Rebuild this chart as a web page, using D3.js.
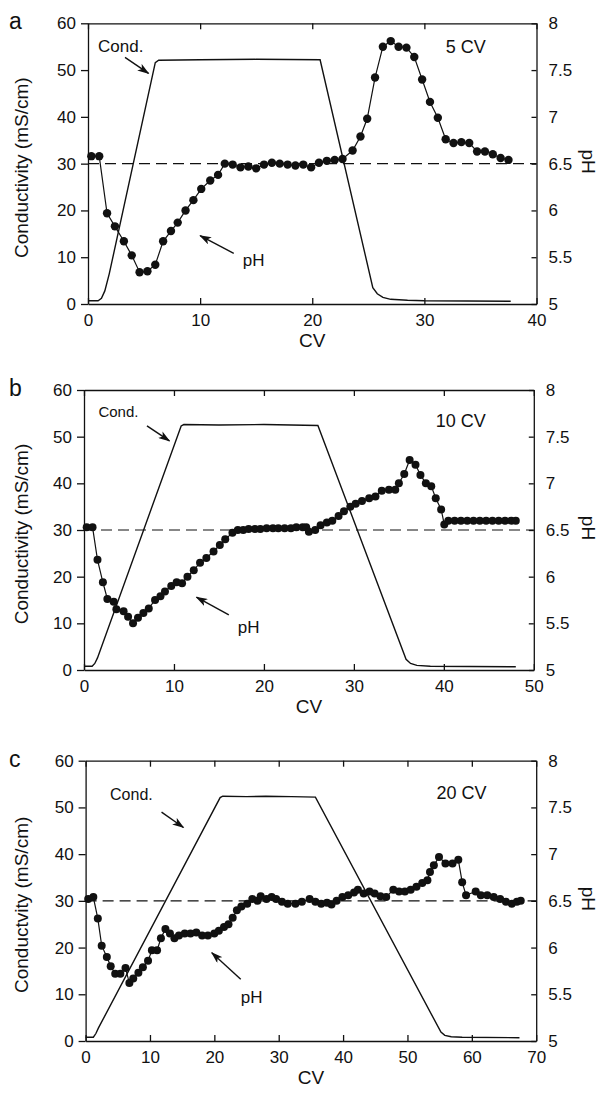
<!DOCTYPE html>
<html>
<head>
<meta charset="utf-8">
<script src="https://cdn.jsdelivr.net/npm/d3@7"></script>
<style>
  body { margin: 0; background: #fff; }
  svg { display: block; }
  text { font-family: "Liberation Sans", Arial, sans-serif; fill: #111; }
</style>
</head>
<body>
<div id="vis"></div>
<script>
// conductivity traces [CV, mS/cm]
let condA = [[0,0.7],[0.9,0.7],[1.2,1.2],[1.5,2.8],[1.9,6.5],[6.0,51.6],[6.3,52.1],[10,52.2],[15,52.3],[20.7,52.2],
  [25.4,3.5],[25.8,2.2],[26.3,1.4],[27.0,1.0],[28.5,0.8],[30,0.7],[37.7,0.6]];
let condB = [[0,0.8],[0.9,0.8],[1.2,1.4],[1.5,2.6],[10.8,52.3],[11.1,52.6],[15,52.5],[20,52.6],[26.0,52.4],
  [35.8,2.3],[36.3,1.4],[37.0,1.0],[38.5,0.8],[48,0.7]];
let condC = [[0,0.8],[1.2,0.8],[1.6,1.6],[2.0,2.8],[20.9,52.1],[21.3,52.4],[25,52.3],[28,52.4],[32,52.3],[35.7,52.2],
  [55.2,1.9],[55.8,1.2],[56.8,0.9],[58.5,0.8],[67.4,0.7]];

// pH traces [CV, pH]
let phA = [[0.3,6.58],[1.0,6.58],[1.7,5.97],[2.4,5.83],[3.2,5.67],[3.9,5.52],[4.6,5.34],[5.3,5.35],[6.0,5.42],
  [6.7,5.67],[7.4,5.78],[8.0,5.87],[8.7,6.0],[9.4,6.11],[10.1,6.23],[10.9,6.32],[11.6,6.38],[12.2,6.5],[12.9,6.49],
  [13.6,6.46],[14.3,6.47],[15.0,6.45],[15.7,6.49],[16.4,6.51],[17.1,6.5],[17.8,6.49],[18.5,6.48],[19.2,6.49],
  [19.9,6.46],[20.6,6.51],[21.3,6.53],[22.0,6.54],[22.7,6.55],[23.6,6.64],[24.3,6.79],[24.9,6.98],[25.6,7.42],
  [26.3,7.75],[27.0,7.81],[27.7,7.75],[28.4,7.74],[29.1,7.64],[29.8,7.40],[30.5,7.16],[31.2,6.99],[31.9,6.76],
  [32.6,6.72],[33.3,6.73],[34.0,6.72],[34.7,6.63],[35.4,6.63],[36.1,6.60],[36.8,6.56],[37.5,6.54]];
let phB = [[0.3,6.53],[0.95,6.53],[1.5,6.18],[2.1,5.94],[2.6,5.76],[3.3,5.73],[3.6,5.65],[4.4,5.63],[4.9,5.57],
  [5.45,5.5],[6.0,5.56],[6.6,5.61],[7.2,5.66],[7.9,5.75],[8.5,5.79],[9.0,5.84],[9.7,5.9],[10.3,5.94],[10.9,5.93],
  [11.5,6.0],[12.2,6.07],[12.9,6.15],[13.6,6.2],[14.4,6.27],[15.1,6.34],[15.7,6.4],[16.5,6.47],[17.1,6.5],
  [17.7,6.5],[18.3,6.51],[19.0,6.51],[19.6,6.51],[20.3,6.52],[21.0,6.52],[21.6,6.52],[22.3,6.52],[23.0,6.52],
  [23.6,6.53],[24.3,6.53],[24.7,6.53],[25.0,6.48],[25.7,6.5],[26.3,6.55],[27.0,6.58],[27.6,6.6],[28.3,6.65],
  [28.9,6.7],[29.6,6.75],[30.2,6.78],[30.9,6.81],[31.7,6.84],[32.4,6.86],[33.1,6.92],[33.9,6.93],[34.6,6.93],
  [35.0,7.0],[35.6,7.1],[36.2,7.25],[36.85,7.2],[37.4,7.09],[38.0,7.0],[38.6,6.97],[39.1,6.84],[39.7,6.72],
  [40.05,6.56],[40.5,6.6],[41.2,6.6],[41.9,6.6],[42.6,6.6],[43.3,6.6],[44.0,6.6],[44.7,6.6],[45.4,6.6],
  [46.1,6.6],[46.8,6.6],[47.5,6.6],[48.0,6.6]];
let phC = [[0.4,6.52],[1.2,6.54],[1.9,6.31],[2.5,6.02],[3.3,5.9],[3.9,5.8],[4.6,5.72],[5.4,5.72],[6.2,5.78],
  [6.8,5.62],[7.4,5.67],[8.2,5.73],[8.9,5.79],[9.7,5.86],[10.3,5.97],[11.1,5.97],[11.7,6.1],[12.4,6.2],[13.1,6.15],
  [13.8,6.1],[14.5,6.13],[15.4,6.15],[16.3,6.15],[17.2,6.16],[18.1,6.13],[19.0,6.13],[20.0,6.15],[20.7,6.18],
  [21.5,6.22],[22.2,6.25],[22.85,6.32],[23.5,6.4],[24.2,6.44],[25.1,6.47],[25.9,6.52],[26.7,6.5],[27.2,6.55],
  [28.1,6.52],[28.9,6.54],[29.6,6.52],[30.5,6.49],[31.4,6.47],[32.6,6.47],[33.6,6.49],[34.8,6.52],[35.7,6.49],
  [36.6,6.47],[37.5,6.48],[38.2,6.46],[39.0,6.5],[39.9,6.54],[40.8,6.56],[41.7,6.59],[42.3,6.62],[43.2,6.58],
  [44.1,6.6],[44.9,6.58],[45.8,6.55],[46.7,6.54],[47.8,6.62],[48.7,6.6],[49.6,6.6],[50.5,6.62],[51.4,6.65],
  [52.3,6.69],[53.1,6.72],[53.5,6.81],[54.1,6.88],[54.9,6.97],[55.9,6.9],[57.0,6.9],[57.9,6.94],[58.5,6.7],
  [59.1,6.56],[60.6,6.6],[61.4,6.56],[62.4,6.56],[63.4,6.54],[64.4,6.52],[65.3,6.49],[66.2,6.47],[67.0,6.49],
  [67.6,6.5]];

// tick labels
let condTicks = [0, 10, 20, 30, 40, 50, 60];
let phTicks = [5, 5.5, 6, 6.5, 7, 7.5, 8];
let cvTicksA = [0, 10, 20, 30, 40];
let cvTicksB = [0, 10, 20, 30, 40, 50];
let cvTicksC = [0, 10, 20, 30, 40, 50, 60, 70];

// annotation anchors in data units [CV, mS/cm]
let labelsA = {cond: [0.9, 53.9], condArrow: [[3.3, 52.7], [5.4, 49.3]],
  ph: [13.8, 8.1], phArrow: [[13.0, 10.8], [10.0, 14.6]], run: [31.9, 53.7]};
let labelsB = {cond: [1.6, 54.3], condArrow: [[7.0, 52.3], [9.5, 49.1]],
  ph: [17.1, 7.9], phArrow: [[16.1, 11.8], [12.5, 15.6]], run: [39.1, 52.1]};
let labelsC = {cond: [3.8, 51.6], condArrow: [[11.8, 49.0], [15.2, 45.7]],
  ph: [24.1, 8.1], phArrow: [[24.1, 13.2], [19.6, 18.9]], run: [54.5, 51.7]};

let W = 609, H = 1097;

let svg = d3.select("#vis").append("svg")
  .attr("width", W)
  .attr("height", H);

svg.append("defs").append("marker")
  .attr("id", "head")
  .attr("viewBox", "0 0 12 8")
  .attr("refX", 11).attr("refY", 4)
  .attr("markerWidth", 12).attr("markerHeight", 8)
  .attr("markerUnits", "userSpaceOnUse")
  .attr("orient", "auto")
  .append("path")
  .attr("d", "M0,0 L12,4 L0,8 L3,4 Z")
  .attr("fill", "#111");

function drawPanel(p) {
  let g = svg.append("g");

  let x = d3.scaleLinear().domain([0, p.xmax]).range([p.left, p.right]);
  let y = d3.scaleLinear().domain([0, 60]).range([p.bottom, p.top]);
  let y2 = d3.scaleLinear().domain([5, 8]).range([p.bottom, p.top]);

  // axes: bottom labelled, top mirrored, ticks inward except left
  g.append("g")
    .attr("transform", "translate(0," + p.bottom + ")")
    .call(d3.axisBottom(x).tickValues(p.xticks).tickSize(-6).tickPadding(10).tickSizeOuter(0))
    .call(a => a.selectAll("text").attr("font-size", 17));
  g.append("g")
    .attr("transform", "translate(0," + p.top + ")")
    .call(d3.axisTop(x).tickValues(p.xticks).tickSize(-6).tickFormat("").tickSizeOuter(0));
  g.append("g")
    .attr("transform", "translate(" + p.left + ",0)")
    .call(d3.axisLeft(y).tickValues(condTicks).tickSize(7).tickPadding(5).tickSizeOuter(0))
    .call(a => a.selectAll("text").attr("font-size", 17));
  g.append("g")
    .attr("transform", "translate(" + p.right + ",0)")
    .call(d3.axisRight(y2).tickValues(phTicks).tickSize(-5).tickPadding(12).tickSizeOuter(0)
      .tickFormat(d => String(d)))
    .call(a => a.selectAll("text").attr("font-size", 17));

  g.selectAll(".domain, .tick line").attr("stroke", "#111").attr("stroke-width", 1.3);
  g.selectAll(".tick text").attr("fill", "#111").attr("font-family", "Liberation Sans, Arial, sans-serif");

  // dashed reference at pH 6.5
  g.append("line")
    .attr("x1", p.left).attr("x2", p.right)
    .attr("y1", y2(6.5)).attr("y2", y2(6.5))
    .attr("stroke", "#111").attr("stroke-width", 1.2)
    .attr("stroke-dasharray", "11,6");

  // conductivity
  g.append("path")
    .datum(p.cond)
    .attr("d", d3.line().x(d => x(d[0])).y(d => y(d[1])))
    .attr("fill", "none").attr("stroke", "#111").attr("stroke-width", 1.4);

  // pH
  g.append("path")
    .datum(p.ph)
    .attr("d", d3.line().x(d => x(d[0])).y(d => y2(d[1])))
    .attr("fill", "none").attr("stroke", "#111").attr("stroke-width", 1.2);
  g.selectAll("circle")
    .data(p.ph)
    .join("circle")
    .attr("cx", d => x(d[0]))
    .attr("cy", d => y2(d[1]))
    .attr("r", p.r)
    .attr("fill", "#111");

  // labels
  let L = p.labels;
  g.append("text").attr("x", x(L.cond[0])).attr("y", y(L.cond[1]))
    .attr("font-size", p.condSize).text("Cond.");
  g.append("line")
    .attr("x1", x(L.condArrow[0][0])).attr("y1", y(L.condArrow[0][1]))
    .attr("x2", x(L.condArrow[1][0])).attr("y2", y(L.condArrow[1][1]))
    .attr("stroke", "#111").attr("stroke-width", 1.4)
    .attr("marker-end", "url(#head)");
  g.append("text").attr("x", x(L.ph[0])).attr("y", y(L.ph[1]))
    .attr("font-size", 17).text("pH");
  g.append("line")
    .attr("x1", x(L.phArrow[0][0])).attr("y1", y(L.phArrow[0][1]))
    .attr("x2", x(L.phArrow[1][0])).attr("y2", y(L.phArrow[1][1]))
    .attr("stroke", "#111").attr("stroke-width", 1.4)
    .attr("marker-end", "url(#head)");
  g.append("text").attr("x", x(L.run[0])).attr("y", y(L.run[1]))
    .attr("font-size", 18).text(p.run);

  // panel letter and axis titles
  g.append("text").attr("x", 9).attr("y", p.top + 6)
    .attr("font-size", 23).text(p.letter);
  let midY = (p.top + p.bottom) / 2 + 4;
  g.append("text")
    .attr("transform", "translate(28," + midY + ") rotate(-90)")
    .attr("text-anchor", "middle").attr("font-size", 19)
    .text(p.ytitle);
  g.append("text")
    .attr("transform", "translate(582," + (midY - 6) + ") rotate(90)")
    .attr("text-anchor", "middle").attr("font-size", 19)
    .text("pH");
  g.append("text")
    .attr("x", (p.left + p.right) / 2).attr("y", p.bottom + 43)
    .attr("text-anchor", "middle").attr("font-size", 19)
    .text("CV");
}

drawPanel({letter: "a", run: "5 CV", xmax: 40, xticks: cvTicksA, left: 88, right: 536.5, top: 23.3, bottom: 304,
  cond: condA, ph: phA, labels: labelsA, r: 4.2, condSize: 17, ytitle: "Conductivity (mS/cm)"});
drawPanel({letter: "b", run: "10 CV", xmax: 50, xticks: cvTicksB, left: 84, right: 533.8, top: 390, bottom: 670,
  cond: condB, ph: phB, labels: labelsB, r: 4, condSize: 15, ytitle: "Conductivity (mS/cm)"});
drawPanel({letter: "c", run: "20 CV", xmax: 70, xticks: cvTicksC, left: 85.6, right: 536.2, top: 760.7, bottom: 1041,
  cond: condC, ph: phC, labels: labelsC, r: 4, condSize: 16, ytitle: "Conductvity (mS/cm)"});
</script>
</body>
</html>
